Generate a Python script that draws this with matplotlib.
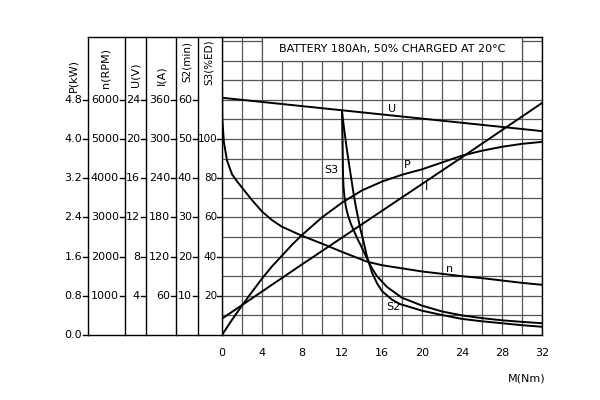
import numpy as np
import matplotlib.pyplot as plt
from matplotlib.transforms import blended_transform_factory
from matplotlib.patches import Rectangle

plt.rcParams['font.family'] = ['DejaVu Sans']

# torque axis M (Nm), every curve in its own unit
U_M = [0, 8, 16, 24, 32]
U_volt = [24.2, 23.35, 22.5, 21.65, 20.8]

I_M = [0, 8, 16, 24, 32]
I_amp = [25, 108, 190, 272, 355]

P_M = [0, 1, 2, 3, 4, 5, 6, 7, 8, 10, 12, 14, 16, 18, 20, 22, 24, 26, 28, 30, 32]
P_kw = [0, 0.31, 0.6, 0.88, 1.15, 1.4, 1.62, 1.84, 2.04, 2.4, 2.7, 2.95, 3.13,
        3.27, 3.38, 3.52, 3.66, 3.76, 3.84, 3.9, 3.94]

n_M = [0, 0.03, 0.2, 0.5, 1, 1.5, 2, 3, 4, 5, 6, 8, 10, 12, 14.5, 16, 18, 20, 22, 24, 26,
       28, 30, 32]
n_rpm = [6500, 5500, 4900, 4450, 4100, 3920, 3760, 3440, 3150, 2930, 2760, 2530, 2330,
         2120, 1870, 1780, 1700, 1620, 1560, 1500, 1450, 1390, 1330, 1280]

S3_M = [12.0, 12.05, 12.1, 12.15, 12.25, 12.4, 12.6, 12.9, 13.25, 13.55, 13.9, 14.5,
        15.0, 15.5, 16.5, 18, 20, 22, 24, 26, 28, 30, 32]
S3_ed = [114, 100, 82, 76, 70, 65, 61, 56.5, 52.5, 49, 45.5, 39, 34, 30, 24.5, 19, 15,
         12, 10, 8.6, 7.5, 6.7, 6.0]

S2_M = [12.0, 12.2, 12.45, 12.8, 13.1, 13.35, 13.6, 13.85, 14.1, 14.5, 15.0, 15.5, 16,
        17, 17.8, 20, 22, 24, 26, 28, 30, 32]
S2_min = [57, 52.8, 48, 42, 37, 33.2, 30, 26.9, 24.4, 20, 15.9, 13.2, 11.2, 9.0,
          7.9, 6.2, 5.1, 4.1, 3.5, 3.0, 2.5, 2.1]

# left-hand scales
P_ticks = [0.0, 0.8, 1.6, 2.4, 3.2, 4.0, 4.8]
n_ticks = [1000, 2000, 3000, 4000, 5000, 6000]
U_ticks = [4, 8, 12, 16, 20, 24]
I_ticks = [60, 120, 180, 240, 300, 360]
S2_ticks = [10, 20, 30, 40, 50, 60]
S3_ticks = [20, 40, 60, 80, 100]
M_ticks = [0, 4, 8, 12, 16, 20, 24, 28, 32]

# factors to put every unit on the kW scale
f_P, f_n, f_U, f_I, f_S2, f_S3 = 1.0, 0.8 / 1000, 0.8 / 4, 0.8 / 60, 0.8 / 10, 0.8 / 20

ytop = 6.08
fig = plt.figure(figsize=(6, 4), dpi=100)
ax = fig.add_axes([0.37, 0.1625, 0.5333, 0.745])
ax.set_xlim(0, 32)
ax.set_ylim(0, ytop)

ax.set_xticks(M_ticks)
ax.set_xticks(np.arange(0, 33, 2), minor=True)
ax.set_yticks(np.arange(0, 6.01, 0.4))
ax.set_yticklabels([])
ax.tick_params(which="both", length=0)
ax.tick_params(axis="x", pad=9, labelsize=8)
ax.set_axisbelow(True)
ax.grid(which="both", color="#555555", linewidth=0.9)
for s in ax.spines.values():
    s.set_linewidth(1.0)

curve = dict(color="black", linewidth=1.4, solid_capstyle="round")
ax.plot(U_M, np.array(U_volt) * f_U, **curve)
ax.plot(I_M, np.array(I_amp) * f_I, **curve)
ax.plot(P_M, np.array(P_kw) * f_P, **curve)
ax.plot(n_M, np.array(n_rpm) * f_n, **curve)
ax.plot(S3_M, np.array(S3_ed) * f_S3, **curve)
ax.plot(S2_M, np.array(S2_min) * f_S2, **curve)

lab = dict(fontsize=8, ha="center", va="center")
ax.text(17, 4.62, "U", **lab)
ax.text(10.9, 3.37, "S3", **lab)
ax.text(18.5, 3.47, "P", **lab)
ax.text(20.5, 3.02, "I", **lab)
ax.text(22.8, 1.35, "n", **lab)
ax.text(17.1, 0.57, "S2", **lab)

ax.add_patch(Rectangle((4, 5.6), 26, ytop - 5.6, facecolor="white",
                       edgecolor="#555555", linewidth=0.9, zorder=1.5))
ax.text(17, 5.84, "BATTERY 180Ah, 50% CHARGED AT 20°C", fontsize=8,
        ha="center", va="center", zorder=3)

ax.text(1.01, -0.145, "M(Nm)", transform=ax.transAxes, fontsize=8,
        ha="right", va="center")

# left block of scales
trans = blended_transform_factory(ax.transAxes, ax.transData)
w = 320.0
columns = [
    (88, 73, 4.96, "P(kW)", P_ticks, f_P, "{:.1f}", 8, 8),
    (125, 105, 5.04, "n(RPM)", n_ticks, f_n, "{}", 8, 8),
    (146, 135, 5.06, "U(V)", U_ticks, f_U, "{}", 8, 8),
    (176, 161, 5.10, "I(A)", I_ticks, f_I, "{}", 8, 8),
    (198, 187, 5.16, "S2(min)", S2_ticks, f_S2, "{}", 8, 7.5),
    (222, 209, 5.10, "S3(%ED)", S3_ticks, f_S3, "{}", 7.5, 7.5),
]
for line_px, lab_px, lab_y, name, ticks, f, fmt, fs, name_fs in columns:
    xa = (line_px - 222) / w
    if line_px != 222:
        ax.plot([xa, xa], [0, ytop], transform=trans, clip_on=False,
                color="black", linewidth=1.0)
    off = 6 if line_px != 222 else 5
    for v in ticks:
        y = v * f
        ax.plot([xa - 5 / w, xa], [y, y], transform=trans, clip_on=False,
                color="black", linewidth=1.0)
        ax.text(xa - off / w, y, fmt.format(v), transform=trans, fontsize=fs,
                ha="right", va="center")
    ax.text((lab_px - 222) / w, lab_y, name, transform=trans, fontsize=name_fs,
            rotation=90, ha="center", va="bottom")

x0 = (88 - 222) / w
ax.plot([x0, 0], [0, 0], transform=trans, clip_on=False, color="black", linewidth=1.0)
ax.plot([x0, 0], [ytop, ytop], transform=trans, clip_on=False, color="black", linewidth=1.0)

fig.savefig("out.png", dpi=100)
